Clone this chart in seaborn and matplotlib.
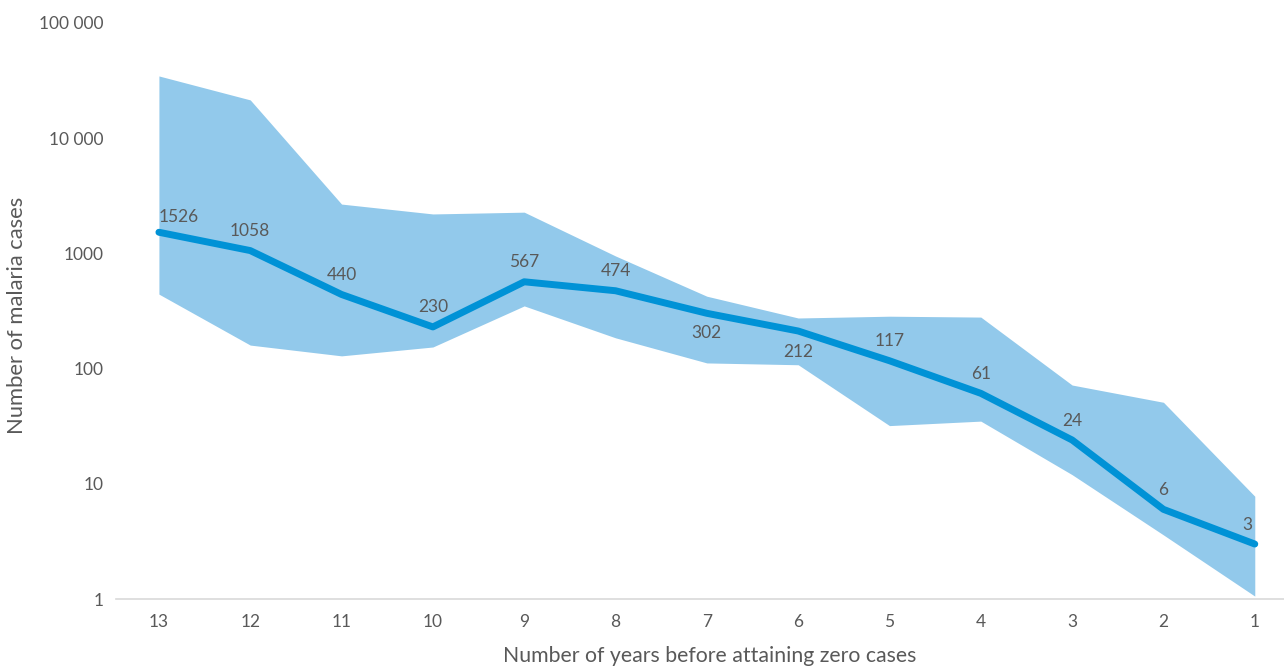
import matplotlib
matplotlib.use("Agg")
import matplotlib.pyplot as plt
import seaborn as sns
import pandas as pd

# Years before attaining zero malaria cases
years = [13, 12, 11, 10, 9, 8, 7, 6, 5, 4, 3, 2, 1]
# Median number of cases
median_cases = [1526, 1058, 440, 230, 567, 474, 302, 212, 117, 61, 24, 6, 3]
# Range across countries
upper_cases = [34700, 21500, 2680, 2200, 2280, 950, 425, 275, 285, 280, 72, 51, 7.8]
lower_cases = [443, 160, 129, 154, 350, 185, 112, 108, 32, 35, 12, 3.6, 1.06]

y_ticks = [1, 10, 100, 1000, 10000, 100000]
y_tick_labels = ["1", "10", "100", "1000", "10 000", "100 000"]

sns.set_theme(style="white")
plt.rcParams["font.family"] = ["Lato", "DejaVu Sans"]

TEXT = "#595959"
LINE = "#0092d6"
BAND = "#92c9eb"

df = pd.DataFrame({"years": years, "median": median_cases,
                   "upper": upper_cases, "lower": lower_cases})

fig = plt.figure(figsize=(12.84, 6.69), dpi=100)
ax = fig.add_axes([116 / 1284, 1 - 599 / 669, (1284 - 116) / 1284, (599 - 23) / 669])

ax.fill_between(df["years"], df["lower"], df["upper"], color=BAND, linewidth=0, zorder=1)
sns.lineplot(data=df, x="years", y="median", ax=ax, color=LINE, linewidth=5,
             solid_capstyle="round", solid_joinstyle="round", zorder=3)

ax.set_yscale("log")
ax.set_ylim(1, 100000)
ax.set_xlim(13.47, 0.68)

ax.set_yticks(y_ticks)
ax.set_yticklabels(y_tick_labels)
ax.minorticks_off()
ax.set_xticks(years)
ax.set_xticklabels([str(y) for y in years])
ax.tick_params(axis="y", length=0, pad=9, labelsize=12.5, labelcolor=TEXT)
ax.tick_params(axis="x", length=0, pad=11, labelsize=12.5, labelcolor=TEXT)

for side in ["top", "right", "left"]:
    ax.spines[side].set_visible(False)
ax.spines["bottom"].set_color("#d9d9d9")
ax.spines["bottom"].set_linewidth(1.2)
ax.grid(False)

ax.set_xlabel("")
ax.set_ylabel("")
fig.text(710 / 1284, 1 - 656 / 669, "Number of years before attaining zero cases",
         ha="center", va="center", fontsize=15.3, color=TEXT)
fig.text(17 / 1284, 1 - 315 / 669, "Number of malaria cases", rotation=90,
         ha="center", va="center", fontsize=15.8, color=TEXT)

# Value labels: offsets in points (dx, dy)
offsets = {13: (14, 11), 12: (0, 14), 7: (0, -14), 6: (0, -15), 1: (-5, 14)}
for yr, val in zip(years, median_cases):
    dx, dy = offsets.get(yr, (0, 14))
    ax.annotate(str(val), (yr, val), xytext=(dx, dy), textcoords="offset points",
                ha="center", va="center", fontsize=12.5, color=TEXT, zorder=4)

fig.savefig("out.png", dpi=100)
